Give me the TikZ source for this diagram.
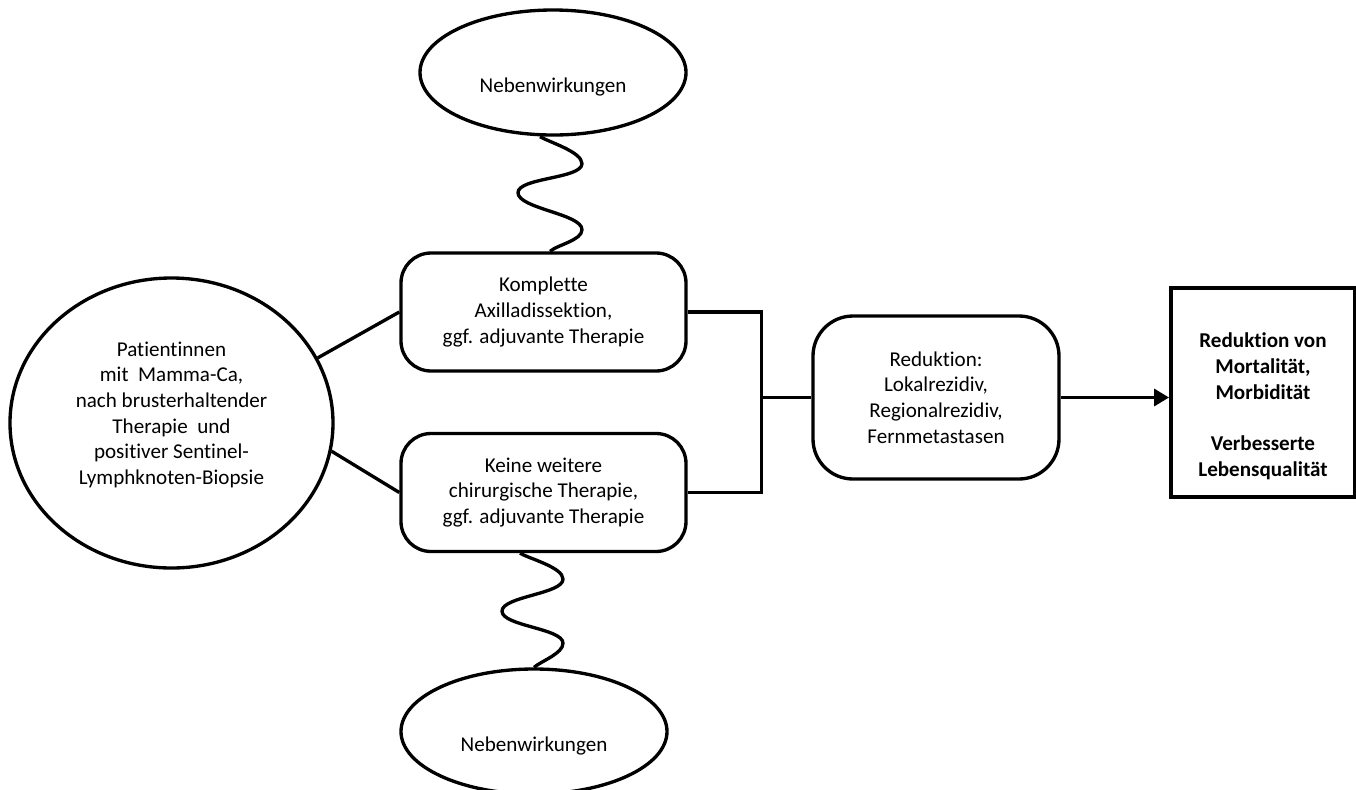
\documentclass[tikz,border=0pt]{standalone}
\usepackage{fontspec}
\setmainfont{Carlito}[Ligatures=NoCommon]
\usetikzlibrary{shapes.geometric,arrows.meta,positioning}

\begin{document}
\begin{tikzpicture}[line width=1.9pt,
  font=\fontsize{12pt}{14.6pt}\selectfont,
  oval/.style={draw,ellipse,inner sep=0pt,align=center},
  rbox/.style={draw,rectangle,rounded corners=#1,inner sep=0pt,align=center},
  rbox/.default=0.6cm,
  wave/.style={out=-90,in=90,looseness=0.55}]
\useasboundingbox (0,0) rectangle (27.12,-15.78);
\node[oval,minimum width=6.46cm,minimum height=5.8cm] (p) at (3.43,-8.46)
  {Patientinnen\\ mit\ \ Mamma-Ca,\\nach brusterhaltender\\Therapie\ \ und\\positiver Sentinel-\\Lymphknoten-Biopsie\rule[-0.4cm]{0pt}{0.1cm}};
\node[oval,minimum width=5.32cm,minimum height=2.5cm,text height=0.9cm,text depth=0.1cm] (n) at (11.06,-1.45) {Nebenwirkungen};
\node[oval,minimum width=5.32cm,minimum height=2.5cm,text height=0.9cm,text depth=0.1cm] (m) at (10.68,-14.63) {Nebenwirkungen};
\node[rbox,minimum width=5.7cm,minimum height=2.36cm] (a) at (10.87,-6.24)
  {Komplette\\Axilladissektion,\\ggf. adjuvante Therapie};
\node[rbox,minimum width=5.7cm,minimum height=2.36cm] (k) at (10.87,-9.85)
  {Keine weitere\\chirurgische Therapie,\\ggf. adjuvante Therapie};
\node[rbox=0.8cm,minimum width=4.92cm,minimum height=3.26cm] (r) at (18.72,-7.95)
  {Reduktion:\\Lokalrezidiv,\\Regionalrezidiv,\\Fernmetastasen};
\node[draw,line width=2.2pt,minimum width=3.68cm,minimum height=4.18cm,inner sep=0pt,align=center,font=\fontsize{12pt}{14.6pt}\selectfont\bfseries] (v) at (25.26,-7.85)
  {\rule{0pt}{0.85cm}Reduktion von\\Mortalität,\\Morbidität\\[0.52cm]Verbesserte\\Lebensqualität};
\coordinate[left=1cm of r.west] (j);
\draw (p.24) -- (a.west);
\draw (p.-10) -- (k.west);
\draw (a.east) -| (j) |- (k.east);
\draw (j) -- (r.west);
\draw[-{Triangle[length=0.3cm,width=0.34cm]}] (r.east) -- (r.east -| v.west);
\draw ([xshift=-0.26cm]n.south) to[out=-30,in=90,looseness=0.6] ++(0.84,-0.54) to[wave] ++(-1.28,-0.58)
  to[wave] ++(1.28,-0.74) to[out=-90,in=40,looseness=0.7] ([xshift=0.13cm]a.north);
\draw ([xshift=-0.47cm]k.south) to[out=-30,in=90,looseness=0.6] ++(0.86,-0.52) to[wave] ++(-1.22,-0.64)
  to[wave] ++(1.22,-0.64) to[out=-90,in=40,looseness=0.7] (m.north);
\end{tikzpicture}
\end{document}
